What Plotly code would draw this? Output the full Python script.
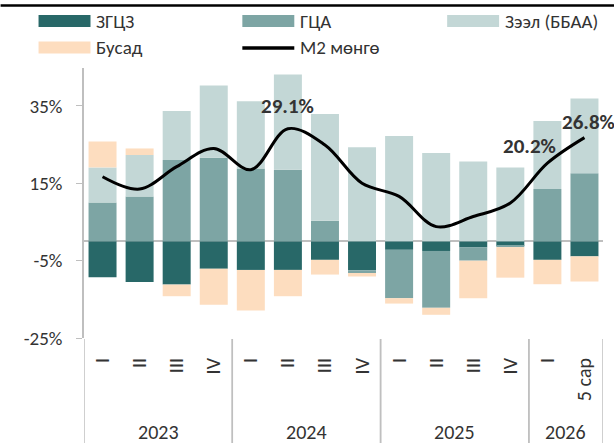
import plotly.graph_objects as go

years = ["2023"] * 4 + ["2024"] * 4 + ["2025"] * 4 + ["2026"] * 2
periods = ["I", "II", "III", "IV", "I", "II", "III", "IV", "I", "II", "III", "IV", "I", "5 сар"]

zgcz = [-9.3, -10.5, -11.2, -7.1, -7.4, -7.4, -4.8, -7.5, -2.2, -2.5, -1.6, -1.2, -4.8, -3.9]
gca = [10.0, 11.6, 21.0, 21.6, 18.8, 18.5, 5.3, -0.7, -12.5, -14.7, -3.4, -0.3, 13.5, 17.6]
zeel = [9.1, 10.7, 12.7, 18.7, 17.4, 24.6, 27.6, 24.3, 27.2, 22.8, 20.6, 19.1, 17.6, 19.3]
busad = [6.7, 1.7, -3.0, -9.3, -10.5, -6.8, -3.8, -0.9, -1.4, -1.8, -9.7, -7.9, -6.3, -6.5]
m2 = [16.7, 13.5, 19.3, 24.0, 18.5, 29.1, 24.9, 15.0, 11.6, 3.8, 6.4, 9.9, 20.2, 26.8]

ytickvals = [-25, -5, 15, 35]
yticktext = ["-25%", "-5%", "15%", "35%"]

names = ["ЗГЦЗ", "ГЦА", "Зээл (ББАА)", "Бусад", "М2 мөнгө"]
colors = ["#286868", "#7DA5A4", "#C3D7D6", "#FDDDBF", "#000000"]

FONT = "Carlito, Lato, sans-serif"
TXT = "#333333"
GRID = "#BFBFBF"

cats = [f"{y} {p}" for y, p in zip(years, periods)]

fig = go.Figure()
for vals, nm, col in zip([zgcz, gca, zeel, busad], names[:4], colors[:4]):
    fig.add_trace(go.Bar(x=cats, y=vals, name=nm, marker=dict(color=col, line=dict(width=0)),
                         showlegend=False))
fig.add_trace(go.Scatter(x=cats, y=m2, name=names[4], mode="lines",
                         line=dict(color="black", width=3, shape="spline", smoothing=1),
                         showlegend=False))

# value labels
labels = [(5, 29.1, 0, 23), (12, 20.2, -18, 17), (13, 26.8, 4, 16)]
for i, v, xs, ys in labels:
    fig.add_annotation(x=i, y=m2[i], text=f"{v:.1f}%", showarrow=False, xshift=xs, yshift=ys,
                       font=dict(family=FONT, size=21, color=TXT, weight="bold"))

L, R, T, B = 83.5, 603, 68, 338
W, H = R - L, B - T
def px(xp):
    return (xp - L) / W
def py(yp):
    return (B - yp) / H

# year group labels and dividers
groups = []
for i, y in enumerate(years):
    if not groups or groups[-1][0] != y:
        groups.append([y, i, i])
    else:
        groups[-1][2] = i
for y, a, b in groups:
    fig.add_annotation(x=(a + b) / 2, y=py(432), yref="paper", text=y, showarrow=False,
                       yanchor="middle", font=dict(family=FONT, size=20, color=TXT))
    for edge in (a - 0.5, b + 0.5):
        fig.add_shape(type="line", x0=edge, x1=edge, yref="paper", y0=py(339), y1=py(443),
                      line=dict(color=GRID, width=1.5))

# top rule
fig.add_shape(type="line", xref="paper", yref="paper", x0=px(0), x1=px(614), y0=py(5.5), y1=py(5.5),
              line=dict(color="black", width=2.5))

# manual legend
leg = [(38, 21, 0), (242, 21, 1), (447, 21, 2), (38, 47.5, 3), (242, 48, 4)]
for lx, ly, k in leg:
    if k < 4:
        fig.add_shape(type="rect", xref="paper", yref="paper", x0=px(lx), x1=px(lx + 52),
                      y0=py(ly + 6), y1=py(ly - 6), fillcolor=colors[k], line=dict(width=0))
    else:
        fig.add_shape(type="line", xref="paper", yref="paper", x0=px(lx), x1=px(lx + 52),
                      y0=py(ly), y1=py(ly), line=dict(color="black", width=3.5))
    fig.add_annotation(xref="paper", yref="paper", x=px(lx + 56), y=py(ly), text=names[k],
                       showarrow=False, xanchor="left", yanchor="middle",
                       font=dict(family=FONT, size=19, color=TXT))

fig.update_layout(
    width=614, height=443,
    margin=dict(l=L, r=614 - R, t=T, b=443 - B),
    barmode="relative", bargap=0.245,
    plot_bgcolor="white", paper_bgcolor="white",
    font=dict(family=FONT, size=19, color=TXT),
    showlegend=False,
)
fig.update_yaxes(range=[-25, 44.8], tickvals=ytickvals, ticktext=yticktext, automargin=False,
                 showgrid=False, showline=True, linecolor=GRID, linewidth=1.5,
                 ticks="outside", ticklen=6, tickcolor=GRID, ticklabelstandoff=10,
                 zeroline=True, zerolinecolor=GRID, zerolinewidth=2,
                 tickfont=dict(family=FONT, size=19, color=TXT))
fig.update_xaxes(type="category", range=[-0.5, len(cats) - 0.5], tickvals=cats, ticktext=periods,
                 tickangle=-90, showline=False, showgrid=False,
                 automargin=False, ticklabelstandoff=15,
                 tickfont=dict(family=FONT, size=20, color=TXT))

fig.write_html("out.html", config={"displayModeBar": False},
               post_script="document.body.style.margin='0';")
